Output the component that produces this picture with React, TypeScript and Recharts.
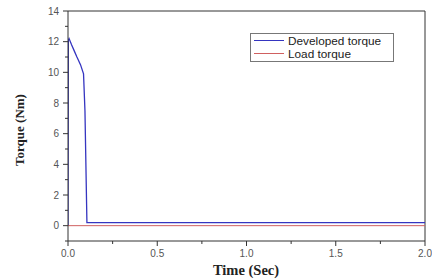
import { LineChart, Line, XAxis, YAxis, Legend, ReferenceLine } from "recharts";

// developed torque (Nm) over time (s)
const devTime = [0, 0.002, 0.006, 0.02, 0.035, 0.05, 0.07, 0.087, 0.095, 0.106, 0.3, 0.6, 0.9, 1.2, 1.5, 1.8, 2.0];
const devTorque = [0, 12.1, 12.2, 11.8, 11.4, 11.0, 10.5, 9.9, 7.5, 0.2, 0.2, 0.2, 0.2, 0.2, 0.2, 0.2, 0.2];

// load torque
const loadTime = [0, 2.0];
const loadTorque = [0, 0];

const xTicks = [0, 0.25, 0.5, 0.75, 1.0, 1.25, 1.5, 1.75, 2.0];
const yTicks = [-1, 0, 1, 2, 3, 4, 5, 6, 7, 8, 9, 10, 11, 12, 13, 14];

const devData = devTime.map((t, i) => ({ t, v: devTorque[i] }));
const loadData = loadTime.map((t, i) => ({ t, v: loadTorque[i] }));

const TICK_COLOR = "#555";

function XTick(props: any) {
    const { x, y, payload } = props;
    const major = Math.abs((payload.value * 2) % 1) < 1e-6;
    return (
        <g>
            <line x1={x} x2={x} y1={y} y2={y + (major ? 5 : 3)} stroke="#333" />
            {major && (
                <text x={x} y={y + 16} textAnchor="middle" fontSize={10} fill={TICK_COLOR} fontFamily="Arial, Liberation Sans">
                    {payload.value.toFixed(1)}
                </text>
            )}
        </g>
    );
}

function YTick(props: any) {
    const { x, y, payload } = props;
    const v = payload.value;
    const major = v >= 0 && v % 2 === 0;
    return (
        <g>
            <line x1={x} x2={x - (major ? 5 : 3)} y1={y} y2={y} stroke="#333" />
            {major && (
                <text x={x - 9} y={y + 3.5} textAnchor="end" fontSize={10} fill={TICK_COLOR} fontFamily="Arial, Liberation Sans">
                    {v}
                </text>
            )}
        </g>
    );
}

function renderLegend(props: any) {
    const { payload } = props;
    return (
        <div style={{ border: "1px solid #777", width: 142, padding: "0 0 1px 0", background: "#fff" }}>
            {payload.map((p: any) => (
                <div key={p.value} style={{ display: "flex", alignItems: "center", height: 13 }}>
                    <span style={{ display: "inline-block", width: 30, height: 1, background: p.color, margin: "0 4px 0 3px" }} />
                    <span style={{ fontSize: 11.8, fontFamily: "Arial, Liberation Sans", color: "#222" }}>{p.value}</span>
                </div>
            ))}
        </div>
    );
}

export default function App() {
    return (
        <div style={{ position: "absolute", left: 0, top: 0, width: 432, height: 279, background: "#fff" }}>
            <LineChart width={432} height={279} margin={{ top: 11, right: 7, bottom: 37, left: 0 }}>
                <XAxis
                    type="number"
                    dataKey="t"
                    domain={[0, 2]}
                    ticks={xTicks}
                    interval={0}
                    height={1}
                    tickSize={0}
                    tickMargin={0}
                    tick={<XTick />}
                    stroke="#333"
                    allowDataOverflow
                />
                <YAxis
                    type="number"
                    dataKey="v"
                    domain={[-1, 14]}
                    ticks={yTicks}
                    interval={0}
                    width={68}
                    tickSize={0}
                    tickMargin={0}
                    tick={<YTick />}
                    stroke="#333"
                    allowDataOverflow
                />
                <ReferenceLine y={14} stroke="#333" />
                <ReferenceLine x={2} stroke="#333" />
                <Legend
                    layout="vertical"
                    align="center"
                    verticalAlign="middle"
                    wrapperStyle={{ top: 33, left: 250, width: 144 }}
                    content={renderLegend}
                />
                <Line data={devData} dataKey="v" name="Developed torque" stroke="#3535c0" strokeWidth={1.3} dot={false} isAnimationActive={false} />
                <Line data={loadData} dataKey="v" name="Load torque" stroke="#d06060" strokeWidth={1} dot={false} isAnimationActive={false} />
            </LineChart>
            <div style={{ position: "absolute", left: 20, top: 130, transform: "translate(-50%, -50%) rotate(-90deg)", fontFamily: "Liberation Serif, Times New Roman, serif", fontWeight: "bold", fontSize: 13, whiteSpace: "nowrap", color: "#222" }}>
                Torque (Nm)
            </div>
            <div style={{ position: "absolute", left: 246, top: 270, transform: "translate(-50%, -50%)", fontFamily: "Liberation Serif, Times New Roman, serif", fontWeight: "bold", fontSize: 14.5, whiteSpace: "nowrap", color: "#222" }}>
                Time (Sec)
            </div>
        </div>
    );
}
